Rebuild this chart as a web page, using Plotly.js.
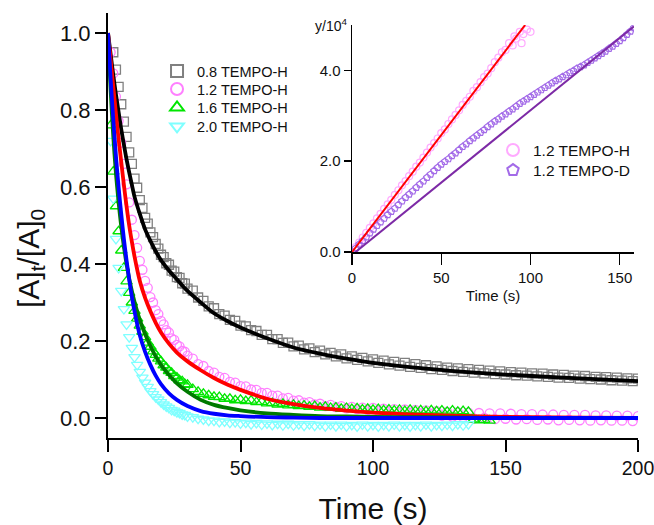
<!DOCTYPE html>
<html>
<head>
<meta charset="utf-8">
<script src="https://cdn.plot.ly/plotly-3.0.1.min.js"></script>
<style>html,body{margin:0;padding:0;background:#fff;}#chart{width:654px;height:525px;}</style>
</head>
<body>
<div id="chart"></div>
<script>
// ---------- main panel: decay data ----------
const grayT = [2,3,4,5,6,7,8,9,10,11,12,13,14,15,16,17,18,19,20,21,22,23,24,25,26,27,28,29,30,
  32,34,36,38,40,42,44,46,48,50,52,54,56,58,60,62,64,66,68,70,72,74,76,78,80,82,84,86,88,90,92,94,96,98,100,
  102,104,106,108,110,112,114,116,118,120,122,124,126,128,130,132,134,136,138,140,142,144,146,148,150,
  152,154,156,158,160,162,164,166,168,170,172,174,176,178,180,182,184,186,188,190,192,194,196,198,200];
const grayV = [0.95,0.905,0.86,0.815,0.77,0.73,0.69,0.66,0.622,0.598,0.566,0.546,0.52,0.505,0.482,0.47,0.452,0.44,0.424,0.418,0.402,0.398,0.383,0.38,0.366,0.364,0.35,0.349,0.336,
  0.331,0.313,0.304,0.29,0.285,0.27,0.266,0.255,0.252,0.24,0.238,0.228,0.226,0.216,0.216,0.205,0.205,0.195,0.196,0.186,0.188,0.178,0.181,0.171,0.175,0.165,0.169,0.16,0.165,0.155,0.16,0.151,0.156,0.147,0.152,
  0.143,0.149,0.139,0.146,0.136,0.143,0.133,0.14,0.13,0.137,0.127,0.134,0.125,0.131,0.122,0.129,0.12,0.127,0.118,0.125,0.116,0.123,0.114,0.121,0.113,
  0.119,0.111,0.118,0.11,0.116,0.108,0.115,0.107,0.113,0.105,0.112,0.104,0.11,0.102,0.109,0.101,0.107,0.1,0.106,0.098,0.105,0.097,0.103,0.096,0.102];

const pinkT = [1,2,3,4,5,6,7,8,9,10,11,12,13,14,15,16,17,18,19,20,21,22,23,24,25,26,27,28,29,30,
  32,34,36,38,40,42,44,46,48,50,52,54,56,58,60,62,64,66,68,70,72,74,76,78,80,82,84,86,88,90,92,94,96,98,100,
  102,104,106,108,110,112,114,116,118,120,122,124,126,128,130,132,134,136,138,140,142,144,146,148,150,
  152,154,156,158,160,162,164,166,168,170,172,174,176,178,180,182,184,186,188,190,192,194,196,198,200];
const pinkV = [0.95,0.895,0.835,0.772,0.715,0.66,0.607,0.56,0.515,0.475,0.442,0.408,0.385,0.356,0.338,0.314,0.3,0.28,0.27,0.252,0.243,0.228,0.222,0.207,0.203,0.19,0.186,0.174,0.172,0.162,
  0.154,0.14,0.135,0.122,0.118,0.107,0.104,0.094,0.092,0.083,0.082,0.074,0.073,0.065,0.065,0.058,0.058,0.051,0.052,0.045,0.046,0.04,0.041,0.035,0.037,0.031,0.034,0.028,0.031,0.025,0.029,0.023,0.027,0.021,0.026,
  0.019,0.024,0.017,0.023,0.015,0.022,0.014,0.021,0.012,0.02,0.011,0.018,0.006,0.016,0.003,0.015,0.002,0.014,-0.001,0.013,0.0,0.012,-0.003,0.012,-0.002,
  0.011,-0.004,0.01,-0.003,0.01,-0.005,0.009,-0.004,0.009,-0.006,0.008,-0.005,0.008,-0.006,0.008,-0.007,0.007,-0.006,0.007,-0.007,0.006,-0.007,0.006,-0.008,0.005];

const greenT = [1,2,3,4,5,6,7,8,9,10,11,12,13,14,15,16,17,18,19,20,21,22,23,24,25,26,27,28,29,30,
  32,34,36,38,40,42,44,46,48,50,52,54,56,58,60,62,64,66,68,70,72,74,76,78,80,82,84,86,88,90,92,94,96,98,100,
  102,104,106,108,110,112,114,116,118,120,122,124,126,128,130,132,134,136,138,140,142,144];
const greenV = [0.76,0.64,0.55,0.485,0.435,0.39,0.355,0.325,0.3,0.278,0.258,0.24,0.224,0.21,0.196,0.185,0.173,0.164,0.154,0.147,0.137,0.131,0.122,0.117,0.109,0.105,0.098,0.095,0.088,0.086,
  0.075,0.068,0.063,0.059,0.055,0.054,0.05,0.05,0.046,0.047,
  0.044,0.045,0.041,0.042,0.038,0.039,0.035,0.037,0.033,0.034,0.031,0.032,0.029,0.031,0.027,0.029,0.026,0.027,0.024,0.026,
  0.023,0.025,0.022,0.024,0.021,0.023,0.02,0.022,0.019,0.021,0.018,0.021,0.018,0.02,0.017,0.02,0.017,0.019,0.016,0.019,
  0.016,0.018,0.016,-0.004,-0.006,-0.005,-0.007];

const cyanT = [1,2,3,4,5,6,7,8,9,10,11,12,13,14,15,16,17,18,19,20,21,22,23,24,25,26,27,28,29,30,
  32,34,36,38,40,42,44,46,48,50,52,54,56,58,60,62,64,66,68,70,72,74,76,78,80,82,84,86,88,90,92,94,96,98,100,
  102,104,106,108,110,112,114,116,118,120,122,124,126,128,130,132,134,136];
const cyanV = [0.72,0.57,0.465,0.39,0.33,0.283,0.243,0.21,0.182,0.158,0.138,0.12,0.105,0.092,0.081,0.07,0.062,0.054,0.048,0.041,0.035,0.03,0.026,0.021,0.019,0.015,0.013,0.009,0.008,0.004,
  0.002,-0.002,-0.004,-0.007,-0.007,-0.01,-0.009,-0.012,-0.011,-0.014,
  -0.012,-0.016,-0.013,-0.017,-0.014,-0.018,-0.015,-0.019,-0.015,-0.019,-0.016,-0.02,-0.016,-0.02,-0.017,-0.021,-0.017,-0.021,-0.017,-0.021,
  -0.018,-0.022,-0.017,-0.021,-0.018,-0.022,-0.018,-0.021,-0.017,-0.021,-0.018,-0.022,-0.018,-0.021,-0.017,-0.021,-0.018,-0.02,-0.017,-0.02,
  -0.016,-0.019,-0.016];

// fitted curves
const fitT = [0,1,2,3,4,5,6,7,8,9,10,12,14,16,18,20,23,26,30,35,40,45,50,60,70,80,90,100,120,140,160,180,200];
const blackFit = [1.0,0.945,0.89,0.84,0.795,0.75,0.71,0.672,0.638,0.606,0.575,0.53,0.49,0.46,0.433,0.41,0.383,0.36,0.33,0.3,0.272,0.252,0.235,0.207,0.183,0.167,0.154,0.143,0.128,0.117,0.109,0.102,0.096];
const redFit = [1.0,0.93,0.86,0.79,0.725,0.665,0.605,0.55,0.5,0.458,0.42,0.356,0.312,0.277,0.247,0.222,0.193,0.17,0.147,0.124,0.104,0.087,0.073,0.05,0.036,0.026,0.019,0.014,0.008,0.004,0.002,0.001,0.0];
const greenFitT = [0,1,2,3,4,5,6,7,8,9,10,12,14,16,18,20,23,26,30,35,40,45,50,60,70,80,90,100,120,140];
const greenFit = [1.0,0.85,0.73,0.635,0.56,0.497,0.445,0.4,0.362,0.33,0.302,0.255,0.218,0.187,0.16,0.138,0.112,0.09,0.068,0.047,0.034,0.026,0.02,0.012,0.008,0.005,0.004,0.003,0.002,0.001];
const blueFit = [1.0,0.88,0.775,0.68,0.6,0.53,0.465,0.41,0.36,0.315,0.277,0.215,0.172,0.138,0.11,0.088,0.064,0.047,0.031,0.018,0.011,0.007,0.005,0.002,0.001,0,0,0,0,0,0,0,0];

const mainNames = ['0.8 TEMPO-H','1.2 TEMPO-H','1.6 TEMPO-H','2.0 TEMPO-H'];
const xTicks = [0,50,100,150,200];
const yTicks = [0,0.2,0.4,0.6,0.8,1.0];

// ---------- inset ----------
const insetHT = [0,2,4,6,8,10,12,14,16,18,20,22,24,26,28,30,32,34,36,38,40,42,44,46,48,50,52,54,56,58,60,62,64,66,68,70,72,74,76,78,80,82,84,86,88,90,91,92,94,95,96,98,100];
const insetHV = [0.0,0.11,0.21,0.32,0.42,0.53,0.63,0.74,0.84,0.95,1.05,1.15,1.26,1.36,1.47,1.56,1.67,1.77,1.88,1.97,2.08,2.19,2.3,2.4,2.5,2.62,2.7,2.82,2.92,3.02,3.12,3.24,3.33,3.42,3.55,3.63,3.74,3.85,3.93,4.05,4.18,4.28,4.4,4.45,4.6,4.55,4.75,4.7,4.85,4.6,4.8,4.9,4.85];
const insetDT = [0,2,4,6,8,10,12,14,16,18,20,22,24,26,28,30,32,34,36,38,40,42,44,46,48,50,52,54,56,58,60,62,64,66,68,70,72,74,76,78,80,
  82,84,86,88,90,92,94,96,98,100,102,104,106,108,110,112,114,116,118,120,122,124,126,128,130,132,134,136,138,140,142,144,146,148,150,152,154,156,158];
const insetDV = [0.0,0.08,0.17,0.25,0.33,0.42,0.5,0.58,0.66,0.74,0.82,0.89,0.96,1.04,1.12,1.2,1.27,1.34,1.42,1.49,1.56,1.64,1.71,1.79,1.86,1.93,1.99,2.05,2.12,2.18,2.25,2.32,2.38,2.45,2.51,2.57,2.63,2.69,2.76,2.82,2.88,
  2.93,2.99,3.04,3.1,3.15,3.21,3.27,3.32,3.37,3.42,3.47,3.52,3.57,3.62,3.67,3.72,3.77,3.81,3.86,3.9,3.95,3.99,4.04,4.08,4.12,4.17,4.22,4.27,4.32,4.37,4.42,4.48,4.53,4.59,4.65,4.72,4.79,4.86,4.94];
const insetHLineT = [0,97];
const insetHLineV = [0,5.0];
const insetDLineT = [2,158];
const insetDLineV = [0,4.97];
const insetNames = ['1.2 TEMPO-H','1.2 TEMPO-D'];

const FONT = '"Liberation Sans", Arial, sans-serif';

function dataTrace(x, y, name, symbol, color, size, leg){
  return {x:x, y:y, name:name, type:'scatter', mode:'markers', xaxis:'x', yaxis:'y', legend:leg,
    marker:{symbol:symbol, size:size, color:color, line:{color:color, width:1.3}}, cliponaxis:true};
}
function fitTrace(x, y, color){
  return {x:x, y:y, type:'scatter', mode:'lines', showlegend:false, xaxis:'x', yaxis:'y',
    line:{color:color, width:3.8, shape:'spline', smoothing:0.8}, hoverinfo:'skip'};
}

const traces = [
  dataTrace(grayT, grayV, mainNames[0], 'square-open', '#808080', 9, 'legend'),
  dataTrace(pinkT, pinkV, mainNames[1], 'circle-open', '#ff7fff', 9, 'legend3'),
  dataTrace(greenT, greenV, mainNames[2], 'triangle-up-open', '#00e600', 10, 'legend4'),
  dataTrace(cyanT, cyanV, mainNames[3], 'triangle-down-open', '#7fffff', 10, 'legend5'),
  fitTrace(fitT, blackFit, '#000000'),
  fitTrace(fitT, redFit, '#ff0000'),
  fitTrace(greenFitT, greenFit, '#007a00'),
  fitTrace(fitT, blueFit, '#0000ff'),
  {x:insetHT, y:insetHV, name:insetNames[0], type:'scatter', mode:'markers', xaxis:'x2', yaxis:'y2', legend:'legend2',
    marker:{symbol:'circle-open', size:7, color:'#ffaaff', line:{color:'#ffaaff', width:1.2}}},
  {x:insetDT, y:insetDV, name:insetNames[1], type:'scatter', mode:'markers', xaxis:'x2', yaxis:'y2', legend:'legend6',
    marker:{symbol:'pentagon-open', size:7, color:'#a36be8', line:{color:'#a36be8', width:1.2}}},
  {x:insetHLineT, y:insetHLineV, type:'scatter', mode:'lines', showlegend:false, xaxis:'x2', yaxis:'y2',
    line:{color:'#ff0000', width:2}},
  {x:insetDLineT, y:insetDLineV, type:'scatter', mode:'lines', showlegend:false, xaxis:'x2', yaxis:'y2',
    line:{color:'#7d2aa6', width:2}}
];

const axBase = {showline:true, linecolor:'#000', showgrid:false, zeroline:false, ticks:'outside', tickcolor:'#000', mirror:false, fixedrange:true, ticklabeloverflow:'allow'};
function leg(y, size, x){
  return {x:x, y:y, xanchor:'left', yanchor:'top', font:{size:size, family:FONT, color:'#111'}, bgcolor:'rgba(0,0,0,0)', itemsizing:'constant', tracegroupgap:0};
}

const layout = {
  width:654, height:525,
  margin:{l:108, r:16, t:13, b:87},
  paper_bgcolor:'#ffffff', plot_bgcolor:'rgba(0,0,0,0)',
  font:{family:FONT, color:'#111'},
  showlegend:true,
  xaxis:Object.assign({}, axBase, {domain:[0,1], range:[0,200], tickvals:xTicks, ticklen:12, tickwidth:2, linewidth:2,
    tickfont:{size:19.5}, title:{text:'Time (s)', font:{size:30}, standoff:21}}),
  yaxis:Object.assign({}, axBase, {domain:[0,1], range:[-0.052,1.052], tickvals:yTicks, tickformat:'.1f', ticklen:11, tickwidth:2, linewidth:2,
    tickfont:{size:22}}),
  xaxis2:Object.assign({}, axBase, {domain:[0.4604,0.9925], anchor:'y2', range:[0,158], tickvals:[0,50,100,150], ticklen:11, tickwidth:1.5, linewidth:1.5,
    tickfont:{size:15}, title:{text:'Time (s)', font:{size:15}, standoff:6}}),
  yaxis2:Object.assign({}, axBase, {domain:[0.4376,0.9718], anchor:'x2', range:[0,5.0], tickvals:[0,2,4], tickformat:'.1f', ticklen:7, tickwidth:1.5, linewidth:1.5,
    tickfont:{size:15}}),
  legend:leg(0.9012, 14.5, 0.0925),
  legend3:leg(0.8588, 14.5, 0.0925),
  legend4:leg(0.8153, 14.5, 0.0925),
  legend5:leg(0.7706, 14.5, 0.0925),
  legend2:leg(0.7165, 15.5, 0.7264),
  legend6:leg(0.6694, 15.5, 0.7264),
  annotations:[
    {text:'[A]<sub>t</sub>/[A]<sub>0</sub>', xref:'paper', yref:'paper', x:-0.1472, y:0.4235, xanchor:'center', yanchor:'middle',
      textangle:-90, showarrow:false, font:{size:30, family:FONT, color:'#111'}},
    {text:'y/10<sup>4</sup>', xref:'paper', yref:'paper', x:0.4208, y:0.972, xanchor:'center', yanchor:'middle',
      showarrow:false, font:{size:14, family:FONT, color:'#111'}}
  ]
};

Plotly.newPlot('chart', traces, layout, {displayModeBar:false, staticPlot:true});
</script>
</body>
</html>
